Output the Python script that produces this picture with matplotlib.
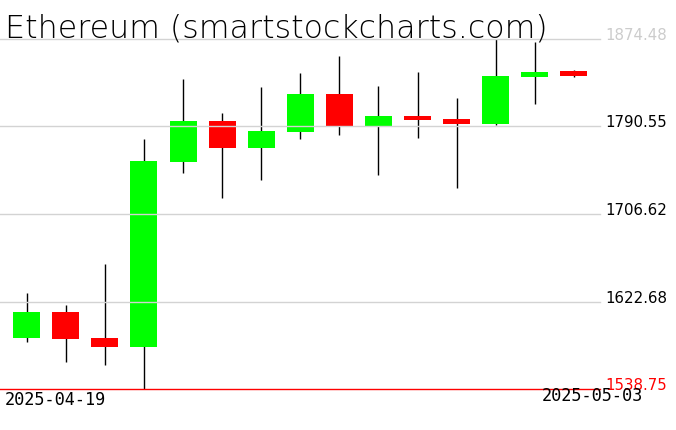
import numpy as np
import matplotlib
matplotlib.use("Agg")
import matplotlib.pyplot as plt

# =========================
# DATA
# =========================
dates = ["2025-04-19", "2025-04-20", "2025-04-21", "2025-04-22", "2025-04-23",
         "2025-04-24", "2025-04-25", "2025-04-26", "2025-04-27", "2025-04-28",
         "2025-04-29", "2025-04-30", "2025-05-01", "2025-05-02", "2025-05-03"]
opens = [1588.0, 1612.6, 1588.0, 1579.3, 1756.8, 1795.8, 1770.2, 1785.6,
         1821.7, 1791.3, 1800.6, 1797.7, 1793.2, 1838.3, 1843.8]
highs = [1630.8, 1619.3, 1658.7, 1778.5, 1836.1, 1803.5, 1828.4, 1841.9,
         1858.2, 1829.4, 1842.8, 1817.9, 1874.48, 1872.0, 1844.5]
lows = [1584.1, 1564.9, 1562.1, 1538.75, 1745.7, 1722.2, 1739.5, 1778.8,
        1782.7, 1744.3, 1779.8, 1731.8, 1792.3, 1812.4, 1838.0]
closes = [1612.6, 1587.0, 1579.3, 1757.4, 1795.8, 1770.2, 1786.2, 1821.7,
          1791.3, 1800.6, 1797.1, 1793.2, 1839.0, 1842.8, 1839.3]

grid_levels = [1874.48, 1790.55, 1706.62, 1622.68, 1538.75]
grid_label_colors = ["#cccccc", "black", "black", "black", "red"]

TITLE = "Ethereum (smartstockcharts.com)"

# =========================
# PLOT
# =========================
W, H = 676, 431
fig = plt.figure(figsize=(W / 100, H / 100), dpi=100)
# plot area: x 0..600 px, y 40..390 px (from top)
ax = fig.add_axes([0, (H - 390) / H, 600 / W, 350 / H])
ax.set_xlim(-0.683, 14.667)
ax.set_ylim(grid_levels[-1], grid_levels[0])
ax.axis("off")

x = np.arange(len(dates))
o = np.array(opens)
c = np.array(closes)
up = c >= o
colors = np.where(up, "#00ff00", "#ff0000")

ax.vlines(x, lows, highs, color="black", linewidth=1.0, zorder=2, clip_on=False)
ax.bar(x, np.abs(c - o), bottom=np.minimum(o, c), width=0.69,
       color=colors, linewidth=0, zorder=3, clip_on=False)

for lvl, col in zip(grid_levels, grid_label_colors):
    line_col = "red" if col == "red" else "#d3d3d3"
    ax.axhline(lvl, color=line_col, linewidth=1.0, zorder=4, clip_on=False)
    ax.text(1.0 + 5 / 600, lvl, f"{lvl:.2f}", transform=ax.get_yaxis_transform(),
            color=col, fontsize=10.8, ha="left", va="baseline", clip_on=False)

fig.text(5 / W, 1 - 37.5 / H, TITLE, fontsize=22.8, fontweight="light",
         color="black", ha="left", va="baseline")

fig.text(5 / W, 1 - 405.5 / H, dates[0], fontsize=12.2, family="DejaVu Sans Mono",
         ha="left", va="baseline")
fig.text(542 / W, 1 - 401.5 / H, dates[-1], fontsize=12.2, family="DejaVu Sans Mono",
         ha="left", va="baseline")

fig.savefig("out.png", dpi=100, facecolor="white")
